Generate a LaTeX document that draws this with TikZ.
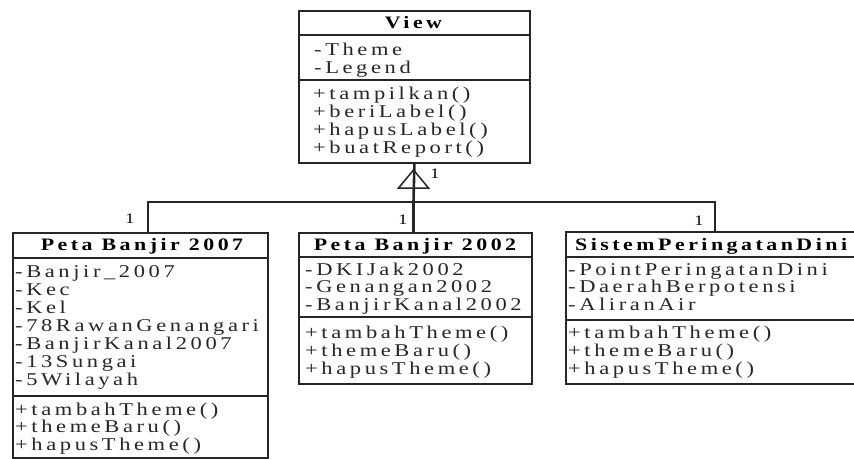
\documentclass[tikz,border=0pt]{standalone}
\usepackage{fontspec}
\setmainfont{Liberation Serif}
\newfontfamily\umlfont[LetterSpace=20,FakeStretch=1.25]{Liberation Serif}
\begin{document}
\begin{tikzpicture}[x=1pt,y=-1pt,
  classbox/.style={draw=black!85, line width=1.8pt, anchor=north west, inner sep=0pt, fill=white},
  divider/.style={draw=black!85, line width=1.6pt},
  title/.style={font=\umlfont\bfseries\fontsize{17.5}{18}\selectfont, anchor=base, inner sep=0pt, text=black},
  member/.style={font=\umlfont\fontsize{18}{18}\selectfont, anchor=base west, inner sep=0pt, text=black!85},
  mult/.style={font=\umlfont\fontsize{14.5}{15}\selectfont, inner sep=0pt, text=black},
  link/.style={draw=black!85, line width=1.6pt},
  stem/.style={draw=black!85, line width=2.6pt}]
\useasboundingbox (0,0) rectangle (854,458);
\clip (0,0) rectangle (854,458);

% class boxes
\node[classbox, minimum width=231pt, minimum height=152pt] (view) at (298,10) {};
\node[classbox, minimum width=255pt, minimum height=225pt] (pb07) at (12,232) {};
\node[classbox, minimum width=233pt, minimum height=151pt] (pb02) at (298,232) {};
\node[classbox, minimum width=340pt, minimum height=152pt] (spd) at (565,231) {};

% compartment dividers
\draw[divider] (298,35) -- (529,35);
\draw[divider] (298,80) -- (529,80);
\draw[divider] (12,258) -- (267,258);
\draw[divider] (12,396) -- (267,396);
\draw[divider] (298,257) -- (531,257);
\draw[divider] (298,317) -- (531,317);
\draw[divider] (565,257) -- (905,257);
\draw[divider] (565,320) -- (905,320);

% class names
\node[title] (view-t) at (413.5,28) {View};
\node[title] (pb07-t) at (142,250) {Peta Banjir 2007};
\node[title] (pb02-t) at (415,250) {Peta Banjir 2002};
\node[title, anchor=base west] (spd-t) at (575,250) {SistemPeringatanDini};

% View members
\foreach \t [count=\i] in {-Theme,-Legend}
  \node[member] (view-a\i) at (314,{55+18*(\i-1)}) {\t};
\foreach \t [count=\i] in {+tampilkan(),+beriLabel(),+hapusLabel(),+buatReport()}
  \node[member] (view-m\i) at (313,{99+18*(\i-1)}) {\t};

% Peta Banjir 2007 members
\foreach \t [count=\i] in {-Banjir\_2007,-Kec,-Kel,-78RawanGenangari,-BanjirKanal2007,-13Sungai,-5Wilayah}
  \node[member] (pb07-a\i) at (15,{277+18*(\i-1)}) {\t};
\foreach \t [count=\i] in {+tambahTheme(),+themeBaru(),+hapusTheme()}
  \node[member] (pb07-m\i) at (15,{415+17.5*(\i-1)}) {\t};

% Peta Banjir 2002 members
\foreach \t [count=\i] in {-DKIJak2002,-Genangan2002,-BanjirKanal2002}
  \node[member] (pb02-a\i) at (305,{275+17.5*(\i-1)}) {\t};
\foreach \t [count=\i] in {+tambahTheme(),+themeBaru(),+hapusTheme()}
  \node[member] (pb02-m\i) at (305,{338+18*(\i-1)}) {\t};

% SistemPeringatanDini members
\foreach \t [count=\i] in {-PointPeringatanDini,-DaerahBerpotensi,-AliranAir}
  \node[member] (spd-a\i) at (568,{275+17.5*(\i-1)}) {\t};
\foreach \t [count=\i] in {+tambahTheme(),+themeBaru(),+hapusTheme()}
  \node[member] (spd-m\i) at (568,{338+18*(\i-1)}) {\t};

% generalization connectors
\coordinate (bus) at (413.5,202);
\coordinate (bus-l) at (148,202);
\coordinate (bus-r) at (715,202);
\draw[stem] (view.south) -- (bus) -- (bus |- pb02.north);
\draw[link] (bus-l |- pb07.north) -- (bus-l) -- (bus-r) -- (bus-r |- spd.north);
\draw[draw=black!85, line width=1.5pt] (413.5,170) -- (428.5,188) -- (398.5,188) -- cycle;

% multiplicities
\node[mult] (m-view) at (435,174) {1};
\node[mult] (m-pb07) at (130,219) {1};
\node[mult] (m-pb02) at (403,220) {1};
\node[mult] (m-spd) at (699,221) {1};
\end{tikzpicture}
\end{document}
